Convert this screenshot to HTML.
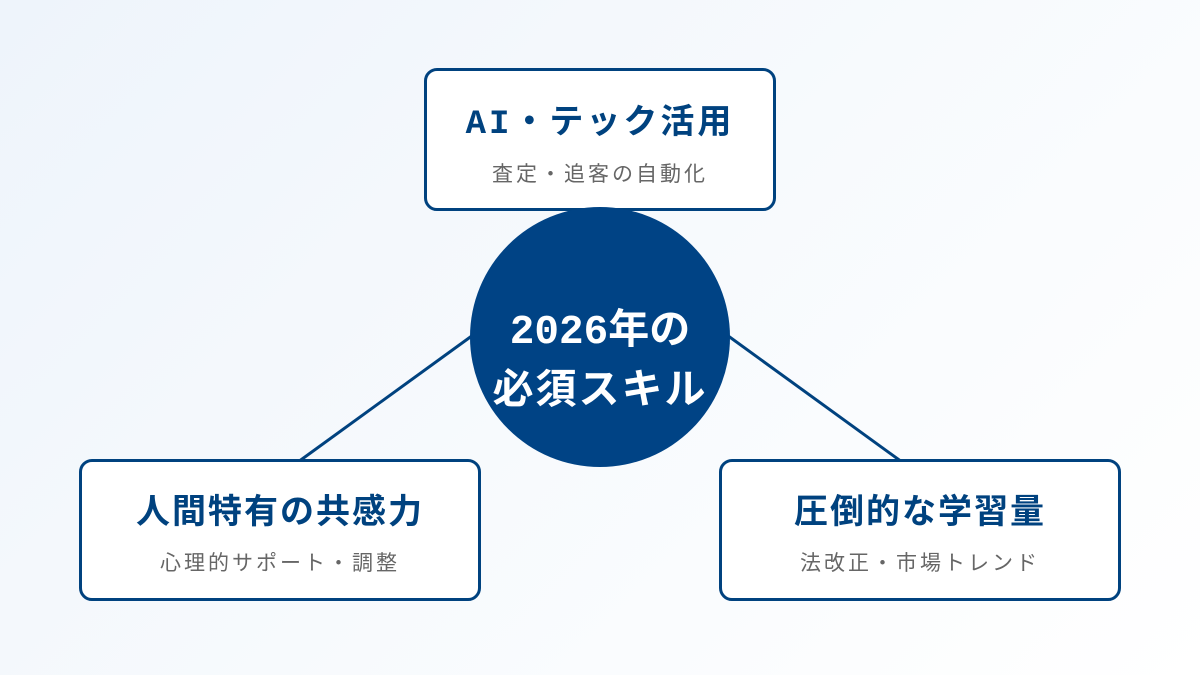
<!DOCTYPE html>
<html><head><meta charset="utf-8"><style>
body{margin:0;width:1200px;height:675px;overflow:hidden;background:linear-gradient(135deg,#eef4fb 0%,#f7fafd 50%,#ffffff 100%);font-family:"Liberation Sans","Noto Sans CJK JP",sans-serif;position:relative}
.box{position:absolute;box-sizing:border-box;border:3px solid #00427f;border-radius:13px;background:#fff;text-align:center}
.t{position:absolute;left:0;right:0;font-family:"Liberation Mono","Noto Sans CJK JP",monospace;font-weight:bold;font-size:34px;letter-spacing:2px;color:#00427f;line-height:1}
.s{position:absolute;left:0;right:0;font-size:21px;letter-spacing:3px;color:#666;line-height:1}
.c{position:absolute;left:470px;top:207px;width:260px;height:260px;border-radius:50%;background:#004385;color:#fff;font-family:"Liberation Mono","Noto Sans CJK JP",monospace;font-weight:bold;font-size:41px;letter-spacing:2px;text-align:center;line-height:60px;box-sizing:border-box;padding-top:96px}
</style></head><body>
<svg width="1200" height="675" style="position:absolute;left:0;top:0">
<line x1="480" y1="330" x2="298" y2="462" stroke="#00427f" stroke-width="3"/>
<line x1="720" y1="330" x2="902" y2="462" stroke="#00427f" stroke-width="3"/>
</svg>
<div class="box" style="left:424px;top:68px;width:352px;height:143px"><div class="t" style="top:37px;letter-spacing:3px">AI・テック活用</div><div class="s" style="top:93px">査定・追客の自動化</div></div>
<div class="c"><span style="letter-spacing:0">2026年の</span><br>必須スキル</div>
<div class="box" style="left:79px;top:459px;width:402px;height:142px"><div class="t" style="top:36px">人間特有の共感力</div><div class="s" style="top:91px">心理的サポート・調整</div></div>
<div class="box" style="left:719px;top:459px;width:402px;height:142px"><div class="t" style="top:36px">圧倒的な学習量</div><div class="s" style="top:91px">法改正・市場トレンド</div></div>
</body></html>
